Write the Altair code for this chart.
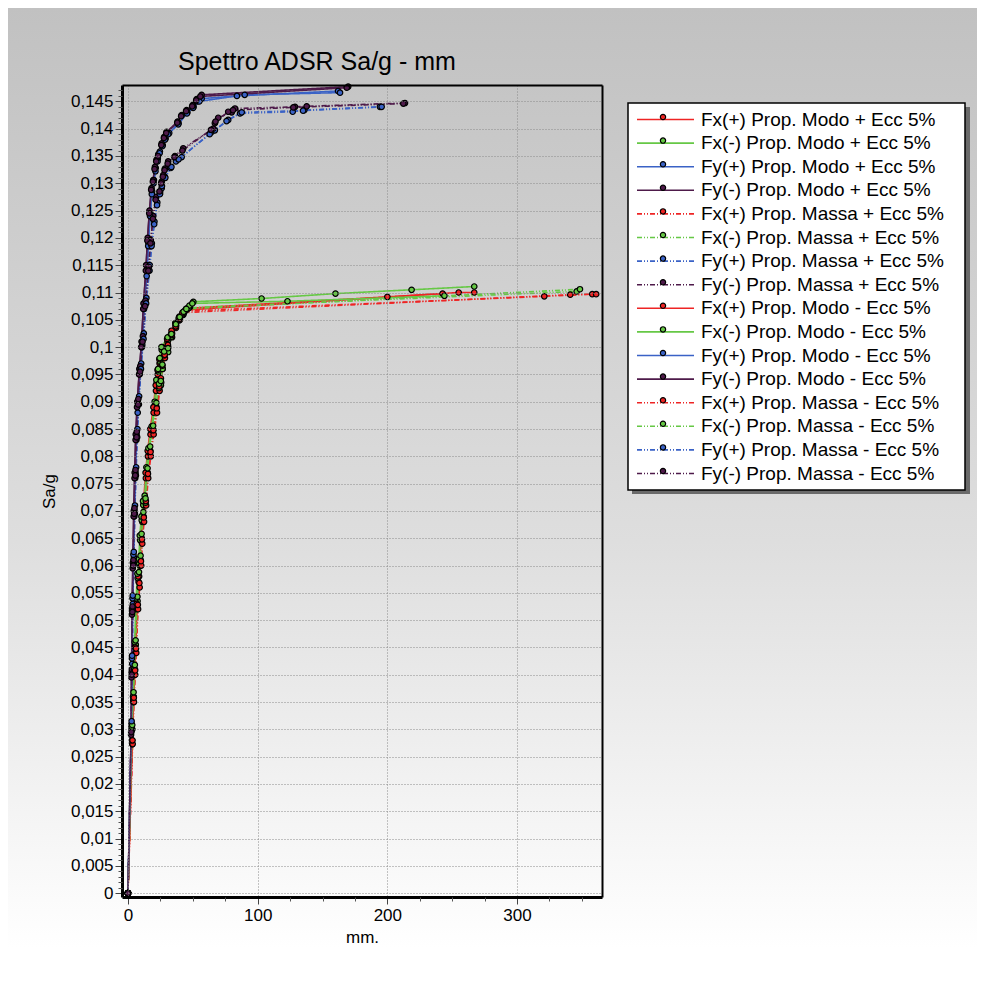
import altair as alt
import pandas as pd

FONT = "Liberation Sans"
TITLE = "Spettro ADSR Sa/g - mm"

NAMES = [
    "Fx(+) Prop. Modo + Ecc 5%", "Fx(-) Prop. Modo + Ecc 5%",
    "Fy(+) Prop. Modo + Ecc 5%", "Fy(-) Prop. Modo + Ecc 5%",
    "Fx(+) Prop. Massa + Ecc 5%", "Fx(-) Prop. Massa + Ecc 5%",
    "Fy(+) Prop. Massa + Ecc 5%", "Fy(-) Prop. Massa + Ecc 5%",
    "Fx(+) Prop. Modo - Ecc 5%", "Fx(-) Prop. Modo - Ecc 5%",
    "Fy(+) Prop. Modo - Ecc 5%", "Fy(-) Prop. Modo - Ecc 5%",
    "Fx(+) Prop. Massa - Ecc 5%", "Fx(-) Prop. Massa - Ecc 5%",
    "Fy(+) Prop. Massa - Ecc 5%", "Fy(-) Prop. Massa - Ecc 5%",
]
RED, GREEN, BLUE, PURPLE = "#ee2424", "#66c845", "#3a62c6", "#4e1a4a"
COLORS = [RED, GREEN, BLUE, PURPLE] * 4
SOLID = [1, 0]
DASHDOT = [5, 2, 1, 2, 1, 2]
DASHES = [SOLID] * 4 + [DASHDOT] * 4 + [SOLID] * 4 + [DASHDOT] * 4

# ---- data: [mm, Sa/g] pairs per series ----
FX_P_MODO_P = [[0,0],[3.3,0.0273],[4.3,0.0350],[5.2,0.0400],[5.8,0.0440],[7.0,0.0520],[8.2,0.0570],[9.2,0.0600],[9.9,0.0645],[11.0,0.0680],[12.4,0.0710],[13.8,0.0760],[15.4,0.0800],[17.4,0.0840],[19.8,0.0880],[21.6,0.0920],[23.0,0.0950],[24.4,0.0970],[26.7,0.0995],[30.5,0.1010],[34.0,0.1025],[37.0,0.1040],[40.0,0.1055],[43.0,0.1064],[46.0,0.1071],[200.0,0.1092],[255.0,0.1100],[267.0,0.1100]]
FX_M_MODO_P = [[0,0],[3.0,0.0300],[4.1,0.0353],[4.9,0.0400],[5.4,0.0451],[6.5,0.0530],[7.5,0.0577],[8.7,0.0604],[9.3,0.0647],[10.6,0.0683],[11.8,0.0711],[13.1,0.0720],[14.4,0.0771],[16.0,0.0808],[18.5,0.0848],[20.8,0.0894],[22.1,0.0934],[23.4,0.0955],[24.7,0.0973],[26.0,0.0995],[31.0,0.1013],[33.6,0.1019],[37.0,0.1040],[39.5,0.1049],[42.6,0.1059],[45.2,0.1068],[47.8,0.1073],[50.4,0.1083],[103.0,0.1089],[160.0,0.1098],[218.7,0.1105],[267.0,0.1111]]
FY_P_MODO_P = [[0,0],[2.8,0.0300],[3.2,0.0400],[3.6,0.0518],[4.4,0.0604],[5.0,0.0701],[5.8,0.0770],[6.6,0.0840],[7.8,0.0897],[9.4,0.0960],[11.0,0.1004],[12.6,0.1080],[14.6,0.1140],[15.8,0.1190],[17.2,0.1245],[18.6,0.1285],[20.0,0.1306],[21.4,0.1328],[23.0,0.1345],[24.6,0.1358],[26.8,0.1370],[29.0,0.1382],[31.8,0.1392],[39.0,0.1410],[45.8,0.1430],[50.6,0.1440],[53.6,0.1450],[56.8,0.1455],[84.0,0.1460],[162.0,0.1469]]
FY_M_MODO_P = [[0,0],[2.5,0.0295],[2.8,0.0405],[3.2,0.0520],[3.8,0.0605],[4.5,0.0700],[5.2,0.0770],[6.0,0.0840],[7.2,0.0900],[8.8,0.0960],[10.5,0.1010],[12.0,0.1080],[14.0,0.1150],[15.2,0.1200],[16.6,0.1250],[18.2,0.1291],[19.5,0.1306],[20.8,0.1330],[22.0,0.1343],[23.4,0.1353],[26.0,0.1373],[28.0,0.1385],[29.8,0.1394],[38.3,0.1413],[41.4,0.1425],[45.2,0.1434],[49.9,0.1443],[53.0,0.1454],[56.8,0.1462],[169.8,0.1477]]
FX_P_MASSA_P = [[0,0],[3.6,0.0273],[4.6,0.0350],[5.6,0.0400],[6.4,0.0440],[7.8,0.0520],[9.0,0.0560],[10.2,0.0600],[11.0,0.0640],[12.4,0.0680],[14.0,0.0710],[15.6,0.0760],[17.6,0.0800],[19.8,0.0840],[22.4,0.0880],[24.4,0.0920],[25.6,0.0935],[26.8,0.0960],[28.5,0.0980],[31.0,0.1000],[34.0,0.1018],[37.0,0.1035],[40.0,0.1050],[42.5,0.1060],[44.0,0.1066],[321.0,0.1093],[358.0,0.1097]]
FX_M_MASSA_P = [[0,0],[3.4,0.0300],[4.4,0.0360],[5.4,0.0410],[6.0,0.0455],[7.4,0.0535],[8.6,0.0580],[9.8,0.0610],[10.6,0.0650],[12.0,0.0690],[13.6,0.0715],[15.2,0.0770],[17.2,0.0810],[19.5,0.0848],[22.0,0.0890],[24.0,0.0925],[25.4,0.0930],[26.6,0.0960],[28.0,0.0985],[31.0,0.0991],[33.6,0.1019],[37.0,0.1038],[40.0,0.1052],[43.0,0.1062],[45.5,0.1070],[47.0,0.1072],[346.0,0.1102]]
FY_P_MASSA_P = [[0,0],[2.9,0.0305],[3.3,0.0420],[3.8,0.0530],[4.6,0.0615],[5.4,0.0710],[6.3,0.0780],[7.3,0.0850],[8.6,0.0910],[10.2,0.0970],[12.2,0.1025],[14.2,0.1090],[16.8,0.1150],[18.4,0.1190],[20.4,0.1230],[22.6,0.1265],[24.8,0.1285],[26.0,0.1291],[28.5,0.1312],[33.0,0.1328],[37.0,0.1340],[41.4,0.1348],[64.5,0.1394],[67.0,0.1397],[77.3,0.1416],[86.4,0.1428],[127.0,0.1431],[136.0,0.1434],[194.3,0.1440]]
FY_M_MASSA_P = [[0,0],[2.6,0.0300],[3.0,0.0410],[3.5,0.0525],[4.2,0.0610],[5.0,0.0705],[5.8,0.0775],[6.8,0.0845],[8.0,0.0905],[9.5,0.0965],[11.5,0.1020],[13.5,0.1085],[16.0,0.1147],[17.6,0.1196],[19.5,0.1240],[21.6,0.1275],[24.7,0.1281],[26.0,0.1303],[27.2,0.1315],[28.5,0.1327],[31.0,0.1340],[36.2,0.1350],[42.6,0.1364],[65.8,0.1400],[67.0,0.1410],[69.6,0.1420],[80.0,0.1430],[82.5,0.1437],[128.8,0.1440],[137.8,0.1441],[213.6,0.1447]]
FX_P_MODO_M = [[0,0],[3.1,0.0280],[4.1,0.0360],[5.0,0.0410],[5.6,0.0450],[6.8,0.0530],[8.0,0.0580],[9.0,0.0610],[9.7,0.0655],[10.8,0.0690],[12.2,0.0720],[13.6,0.0770],[15.2,0.0810],[17.2,0.0850],[19.6,0.0890],[21.4,0.0930],[22.8,0.0958],[24.2,0.0978],[26.4,0.1000],[30.2,0.1015],[33.6,0.1030],[36.6,0.1044],[39.6,0.1056],[42.6,0.1063],[44.5,0.1068],[242.6,0.1098]]
FX_M_MODO_M = [[0,0],[2.9,0.0305],[3.9,0.0360],[4.7,0.0410],[5.2,0.0460],[6.3,0.0540],[7.3,0.0585],[8.5,0.0612],[9.1,0.0655],[10.4,0.0690],[11.6,0.0718],[12.9,0.0728],[14.2,0.0780],[15.8,0.0815],[18.3,0.0855],[20.6,0.0900],[21.9,0.0940],[23.2,0.0960],[24.5,0.0980],[25.8,0.1000],[30.6,0.1018],[33.2,0.1024],[36.6,0.1044],[39.1,0.1053],[42.2,0.1062],[44.8,0.1070],[47.4,0.1076],[49.6,0.1080],[123.0,0.1084],[244.0,0.1094]]
FY_P_MODO_M = [[0,0],[2.7,0.0310],[3.1,0.0430],[3.5,0.0540],[4.2,0.0620],[4.9,0.0690],[5.6,0.0760],[6.5,0.0830],[7.5,0.0880],[9.0,0.0950],[10.8,0.1000],[12.4,0.1070],[14.4,0.1130],[15.6,0.1185],[17.0,0.1240],[18.4,0.1280],[19.8,0.1300],[21.2,0.1322],[22.8,0.1340],[24.4,0.1355],[26.5,0.1368],[28.6,0.1380],[31.0,0.1390],[38.8,0.1408],[45.5,0.1428],[50.2,0.1438],[55.0,0.1450],[90.0,0.1462],[163.5,0.1466]]
FY_M_MODO_M = [[0,0],[2.4,0.0290],[2.7,0.0395],[3.1,0.0510],[3.7,0.0595],[4.4,0.0690],[5.1,0.0760],[5.9,0.0830],[7.0,0.0890],[8.6,0.0950],[10.2,0.1000],[11.8,0.1070],[13.8,0.1140],[15.0,0.1195],[16.4,0.1245],[17.9,0.1288],[19.2,0.1303],[20.5,0.1326],[21.8,0.1340],[23.2,0.1350],[25.7,0.1370],[27.7,0.1383],[29.5,0.1392],[38.0,0.1411],[41.0,0.1423],[44.8,0.1432],[49.5,0.1441],[52.6,0.1452],[55.8,0.1459],[168.7,0.1475]]
FX_P_MASSA_M = [[0,0],[3.5,0.0280],[4.5,0.0358],[5.5,0.0408],[6.2,0.0448],[7.6,0.0528],[8.8,0.0568],[10.0,0.0608],[10.8,0.0648],[12.2,0.0688],[13.8,0.0718],[15.4,0.0768],[17.4,0.0808],[19.6,0.0848],[22.2,0.0888],[24.2,0.0928],[25.4,0.0943],[26.6,0.0966],[28.3,0.0986],[30.8,0.1004],[33.8,0.1022],[36.8,0.1038],[39.8,0.1052],[42.0,0.1063],[341.0,0.1096],[361.0,0.1097]]
FX_M_MASSA_M = [[0,0],[3.3,0.0308],[4.3,0.0368],[5.3,0.0418],[5.9,0.0463],[7.3,0.0543],[8.5,0.0588],[9.7,0.0618],[10.5,0.0658],[11.9,0.0698],[13.5,0.0723],[15.1,0.0778],[17.1,0.0818],[19.4,0.0856],[21.9,0.0898],[23.9,0.0933],[25.3,0.0938],[26.5,0.0968],[27.9,0.0992],[30.9,0.0998],[33.5,0.1024],[36.9,0.1042],[39.9,0.1055],[42.9,0.1065],[45.0,0.1070],[348.5,0.1106]]
FY_P_MASSA_M = [[0,0],[2.8,0.0315],[3.2,0.0435],[3.7,0.0545],[4.5,0.0625],[5.3,0.0695],[6.1,0.0765],[7.1,0.0835],[8.4,0.0895],[10.0,0.0960],[12.0,0.1015],[14.0,0.1080],[16.6,0.1140],[18.2,0.1185],[20.2,0.1225],[22.4,0.1260],[24.6,0.1280],[26.2,0.1295],[28.8,0.1310],[33.5,0.1330],[39.0,0.1344],[63.0,0.1390],[76.0,0.1414],[87.7,0.1430],[135.0,0.1433],[195.6,0.1440]]
FY_M_MASSA_M = [[0,0],[2.5,0.0295],[2.9,0.0400],[3.4,0.0515],[4.1,0.0600],[4.8,0.0695],[5.6,0.0765],[6.6,0.0835],[7.8,0.0895],[9.3,0.0955],[11.2,0.1010],[13.2,0.1075],[15.7,0.1140],[17.3,0.1190],[19.2,0.1235],[21.3,0.1270],[24.3,0.1285],[25.6,0.1300],[26.9,0.1312],[28.2,0.1324],[30.6,0.1336],[35.8,0.1348],[42.0,0.1360],[64.0,0.1398],[67.5,0.1413],[77.3,0.1431],[81.0,0.1434],[127.5,0.1439],[212.3,0.1446]]

SERIES = [FX_P_MODO_P, FX_M_MODO_P, FY_P_MODO_P, FY_M_MODO_P,
          FX_P_MASSA_P, FX_M_MASSA_P, FY_P_MASSA_P, FY_M_MASSA_P,
          FX_P_MODO_M, FX_M_MODO_M, FY_P_MODO_M, FY_M_MODO_M,
          FX_P_MASSA_M, FX_M_MASSA_M, FY_P_MASSA_M, FY_M_MASSA_M]

X_TICKS = [0, 100, 200, 300]
X_MINOR = [25, 50, 75, 125, 150, 175, 225, 250, 275, 325, 350]
Y_TICKS = [0, 0.005, 0.01, 0.015, 0.02, 0.025, 0.03, 0.035, 0.04, 0.045, 0.05,
           0.055, 0.06, 0.065, 0.07, 0.075, 0.08, 0.085, 0.09, 0.095, 0.1,
           0.105, 0.11, 0.115, 0.12, 0.125, 0.13, 0.135, 0.14, 0.145]
Y_MINOR = [round(i * 0.001, 3) for i in range(1, 148) if i % 5]

rows = []
for name, pts in zip(NAMES, SERIES):
    for i, (xv, yv) in enumerate(pts):
        rows.append({"series": name, "s2": name, "x": xv, "y": yv, "i": i})
df = pd.DataFrame(rows)

# ---- layout ----
W, H = 480, 812
PAD_L, PAD_T = 114, 77
TOTAL_W, TOTAL_H = 969, 970
PAD_R = TOTAL_W - PAD_L - W
PAD_B = TOTAL_H - PAD_T - H

xs = alt.Scale(domain=[-4.6, 365.5], nice=False, zero=False)
ys = alt.Scale(domain=[-0.0007, 0.148], nice=False, zero=False)

one = pd.DataFrame({"k": [0]})

bg = alt.Chart(one).mark_rect(
    fill=alt.LinearGradient(gradient="linear", x1=0, x2=0, y1=0, y2=1,
                            stops=[alt.GradientStop(offset=0, color="#c1c1c1"),
                                   alt.GradientStop(offset=0.55, color="#dedede"),
                                   alt.GradientStop(offset=0.97, color="#ffffff")]),
    strokeWidth=0,
).encode(x=alt.value(-PAD_L), x2=alt.value(W + PAD_R), y=alt.value(-PAD_T), y2=alt.value(H + PAD_B))

title_mark = alt.Chart(one).mark_text(
    text=TITLE, font=FONT, fontSize=25, color="black", align="left", baseline="alphabetic"
).encode(x=alt.value(56), y=alt.value(-15))

shadow = alt.Chart(one).mark_rect(fill="#6a6a6a", strokeWidth=0).encode(
    x=alt.value(510), x2=alt.value(848), y=alt.value(22), y2=alt.value(409))
box = alt.Chart(one).mark_rect(fill="white", stroke="black", strokeWidth=1.5).encode(
    x=alt.value(506), x2=alt.value(843), y=alt.value(18), y2=alt.value(405))

common_axis = dict(labelFont=FONT, titleFont=FONT, labelColor="black", titleColor="black",
                   titleFontWeight="normal", zindex=1)

ax_x_main = alt.Axis(orient="bottom", values=X_TICKS, grid=True, gridColor="#8a8a8a", gridDash=[1, 2],
                     gridWidth=1, domainColor="black", domainWidth=3, tickColor="#444", tickSize=7,
                     tickWidth=1, labelFontSize=17, labelPadding=3, labelFlush=False,
                     title="mm.", titleFontSize=17, titlePadding=6, **common_axis)
ax_y_main = alt.Axis(orient="left", values=Y_TICKS, grid=True, gridColor="#8a8a8a", gridDash=[1, 2],
                     gridWidth=1, domainColor="black", domainWidth=3, tickColor="#444", tickSize=7,
                     tickWidth=1, labelFontSize=17, labelPadding=2, labelFlush=False,
                     labelExpr="replace(format(datum.value, '.3~f'), '.', ',')",
                     title="Sa/g", titleFontSize=17, titlePadding=12, **common_axis)
ax_x_top = alt.Axis(orient="top", labels=False, ticks=False, grid=False, domainColor="black",
                    domainWidth=2, title=None, zindex=1)
ax_y_right = alt.Axis(orient="right", labels=False, ticks=False, grid=False, domainColor="black",
                      domainWidth=2, title=None, zindex=1)
ax_x_minor = alt.Axis(orient="bottom", values=X_MINOR, labels=False, grid=False, domain=False,
                      tickSize=4, tickColor="#555", tickWidth=1, title=None, zindex=1)
ax_y_minor = alt.Axis(orient="left", values=Y_MINOR, labels=False, grid=False, domain=False,
                      tickSize=4, tickColor="#555", tickWidth=1, title=None, zindex=1)

leg_line = alt.Legend(orient="none", legendX=514, legendY=24, title=None,
                      symbolType="M-1,0H5", symbolSize=361, symbolStrokeWidth=1.6,
                      labelFont=FONT, labelFontSize=19, labelColor="black", labelOffset=44,
                      labelLimit=400, rowPadding=2.6, padding=0)
leg_pts = alt.Legend(orient="none", legendX=537.5, legendY=28.5, title=None,
                     symbolType="circle", symbolSize=28, symbolStrokeColor="black",
                     symbolStrokeWidth=1.2, symbolOpacity=1,
                     labelExpr="''", labelFont=FONT, labelFontSize=1, labelOpacity=0, labelOffset=0,
                     rowPadding=12.6, padding=0)

lines = alt.Chart(df).mark_line(strokeWidth=1.6).encode(
    x=alt.X("x:Q", scale=xs, axis=ax_x_main),
    y=alt.Y("y:Q", scale=ys, axis=ax_y_main),
    color=alt.Color("series:N", scale=alt.Scale(domain=NAMES, range=COLORS), legend=leg_line),
    strokeDash=alt.StrokeDash("series:N", scale=alt.Scale(domain=NAMES, range=DASHES), legend=leg_line),
    order=alt.Order("i:Q"),
)

points = alt.Chart(df).mark_point(filled=True, size=30, stroke="black", strokeWidth=1.2, opacity=1).encode(
    x=alt.X("x:Q", scale=xs, axis=ax_x_top),
    y=alt.Y("y:Q", scale=ys, axis=ax_y_right),
    fill=alt.Fill("s2:N", sort=NAMES, scale=alt.Scale(range=COLORS), legend=leg_pts),
)

minor = alt.Chart(df).mark_point(opacity=0).encode(
    x=alt.X("x:Q", scale=xs, axis=ax_x_minor),
    y=alt.Y("y:Q", scale=ys, axis=ax_y_minor),
)

chart = alt.layer(bg, title_mark, shadow, box, lines, points, minor).resolve_axis(
    x="independent", y="independent"
).properties(
    width=W, height=H,
    autosize=alt.AutoSizeParams(type="none"),
    padding={"left": PAD_L, "top": PAD_T, "right": PAD_R, "bottom": PAD_B},
).configure_view(stroke=None).configure(background="white")

chart.save("out.html", embed_options={"renderer": "svg", "actions": False})
